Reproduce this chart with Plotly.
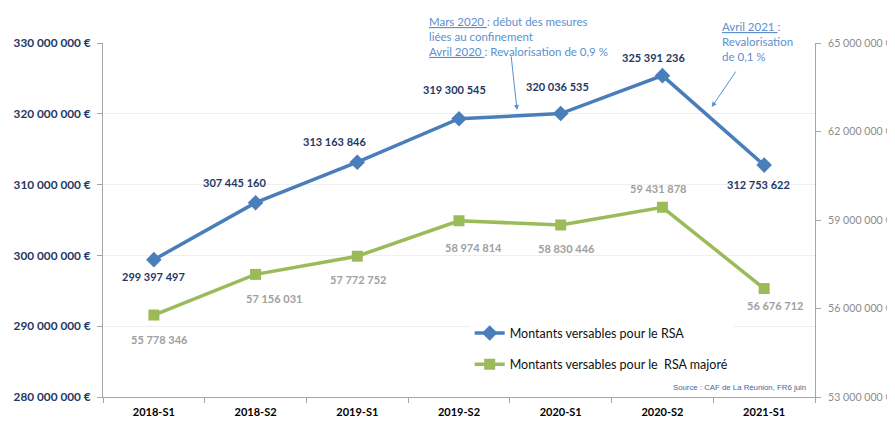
import plotly.graph_objects as go

categories = ["2018-S1", "2018-S2", "2019-S1", "2019-S2", "2020-S1", "2020-S2", "2021-S1"]
rsa_values = [299397497, 307445160, 313163846, 319300545, 320036535, 325391236, 312753622]
rsa_majore_values = [55778346, 57156031, 57772752, 58974814, 58830446, 59431878, 56676712]

rsa_name = "Montants versables pour le RSA"
rsa_majore_name = "Montants versables pour le  RSA majoré"

# label offsets (pixels) for the data labels
rsa_label_shift = [(0, -17), (-21, 20), (-23, 21), (-5, 29), (-3, 27), (-9, 18), (-6, -19)]
maj_label_shift = [(6, -24), (18, -24), (1, -23), (14, -27), (6, -23), (-4, 19), (11, -17)]

FONT = "Lato"
BLUE = "#4a7ebb"
GREEN = "#9bbb59"
NAVY = "#1f3864"
GREY_LBL = "#a0a0a0"
ANN = "#5b8fd0"

def fmt(v):
    return f"{v:,}".replace(",", " ")

fig = go.Figure()
fig.add_trace(go.Scatter(
    x=categories, y=rsa_values, name=rsa_name, mode="lines+markers",
    line=dict(color=BLUE, width=3.5),
    marker=dict(symbol="diamond", size=12, color=BLUE),
    legendgroup="a", yaxis="y"))
fig.add_trace(go.Scatter(
    x=categories, y=rsa_majore_values, name=rsa_majore_name, mode="lines+markers",
    line=dict(color=GREEN, width=3.5),
    marker=dict(symbol="square", size=11, color=GREEN),
    legendgroup="b", yaxis="y2"))

annotations = []
for c, v, (dx, dy) in zip(categories, rsa_values, rsa_label_shift):
    annotations.append(dict(x=c, y=v, xref="x", yref="y", text="<b>" + fmt(v) + "</b>",
                            showarrow=False, xshift=dx, yshift=dy,
                            font=dict(family=FONT, size=11, color=NAVY)))
for c, v, (dx, dy) in zip(categories, rsa_majore_values, maj_label_shift):
    annotations.append(dict(x=c, y=v, xref="x", yref="y2", text="<b>" + fmt(v) + "</b>",
                            showarrow=False, xshift=dx, yshift=dy,
                            font=dict(family=FONT, size=11, color=GREY_LBL)))

# comment annotations
annotations.append(dict(
    xref="paper", yref="paper", x=0.455, y=1.084, xanchor="left", yanchor="top",
    align="left", showarrow=False,
    text="<u>Mars 2020 </u>: début des mesures<br>liées au confinement<br><u>Avril 2020 </u>: Revalorisation de 0,9 %",
    font=dict(family=FONT, size=11.5, color=ANN)))
annotations.append(dict(
    xref="paper", yref="paper", x=0.866, y=1.071, xanchor="left", yanchor="top",
    align="left", showarrow=False,
    text="<u>Avril 2021 </u>:<br>Revalorisation<br>de 0,1 %",
    font=dict(family=FONT, size=11.5, color=ANN)))
annotations.append(dict(
    xref="paper", yref="paper", x=0.5815, y=0.811, text="", showarrow=True,
    ax=-6, ay=-55, arrowhead=2, arrowsize=1, arrowwidth=1, arrowcolor=ANN))
annotations.append(dict(
    xref="paper", yref="paper", x=0.855, y=0.819, text="", showarrow=True,
    ax=25, ay=-37, arrowhead=2, arrowsize=1, arrowwidth=1, arrowcolor=ANN))
annotations.append(dict(
    xref="paper", yref="paper", x=0.99, y=0.027, xanchor="right", yanchor="middle",
    showarrow=False, text="Source : CAF de La Réunion, FR6 juin",
    font=dict(family="Liberation Sans", size=7.8, color="#44679f")))

# the page body adds an 8px margin, so the figure is 8px smaller than the window
fig.update_layout(
    width=887, height=413,
    margin=dict(l=95, r=80, t=35, b=24, pad=0, autoexpand=False),
    paper_bgcolor="white", plot_bgcolor="white",
    separators=", ",
    font=dict(family=FONT, size=12, color="#000"),
    showlegend=True,
    legend=dict(x=0.515, y=0.222, xanchor="left", yanchor="top",
                bgcolor="white", traceorder="grouped", tracegroupgap=12,
                font=dict(family=FONT, size=12.5, color="#111"),
                itemwidth=30),
    xaxis=dict(type="category", range=[-0.5, 6.5], showgrid=False, automargin=False,
               showline=True, linecolor="#a6a6a6", linewidth=1, ticklabelstandoff=5,
               ticks="outside", tickson="boundaries", ticklen=5, tickcolor="#a6a6a6",
               tickfont=dict(family=FONT, size=11, color="#000", weight="bold"),
               fixedrange=True),
    yaxis=dict(range=[280000000, 330000000], dtick=10000000, tickformat=",d",
               ticksuffix=" €", showgrid=True, gridcolor="#efefef", gridwidth=1,
               automargin=False, ticklabelstandoff=4,
               showline=True, linecolor="#a6a6a6", linewidth=1,
               ticks="outside", ticklen=5, tickcolor="#a6a6a6",
               tickfont=dict(family=FONT, size=11.8, color=NAVY, weight="bold"),
               zeroline=False),
    yaxis2=dict(range=[53000000, 65000000], tick0=53000000, dtick=3000000, tickformat=",d",
                ticksuffix=" €", overlaying="y", side="right", showgrid=False,
                automargin=False, ticklabelstandoff=5,
                showline=True, linecolor="#a6a6a6", linewidth=1,
                ticks="outside", ticklen=5, tickcolor="#a6a6a6",
                tickfont=dict(family=FONT, size=10.6, color="#8c8c8c"),
                zeroline=False),
    annotations=annotations,
)

fig.write_html("out.html")
